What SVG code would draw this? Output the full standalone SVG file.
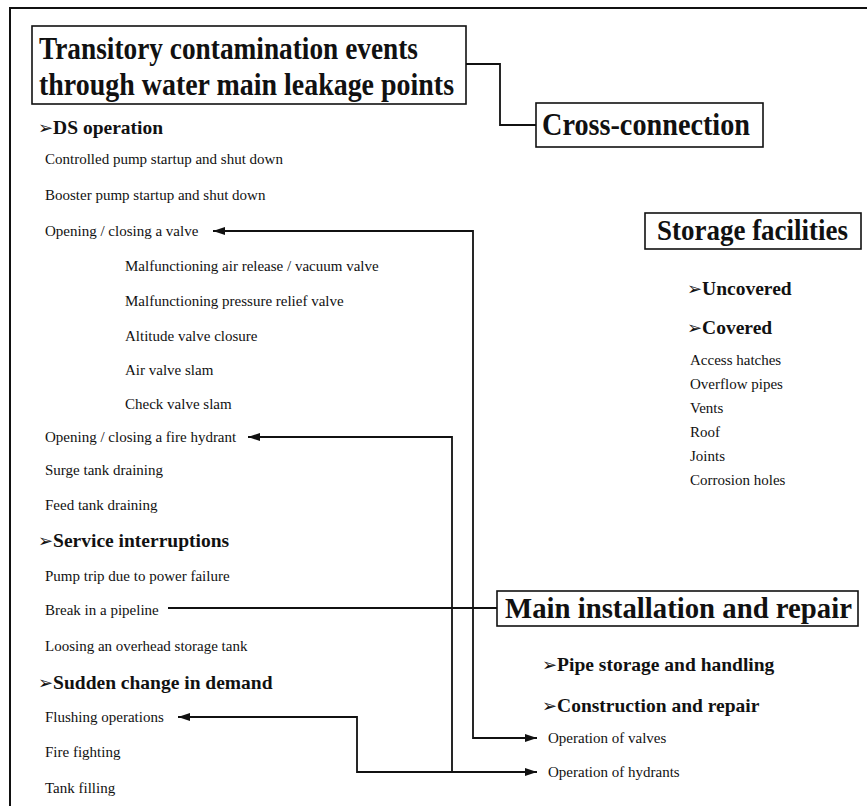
<svg xmlns="http://www.w3.org/2000/svg" width="867" height="806" viewBox="0 0 867 806">
<defs>
<style>
.t { font-family: "Liberation Serif", "Times New Roman", serif; font-size: 15px; fill: #111; }
.h { font-family: "Liberation Serif", "Times New Roman", serif; font-size: 19.5px; font-weight: bold; fill: #111; }
.b { font-family: "DejaVu Sans", sans-serif; font-size: 18px; font-weight: normal; }
.big { font-family: "Liberation Serif", "Times New Roman", serif; font-weight: bold; fill: #111; }
.box { fill: #fff; stroke: #111; stroke-width: 1.6; }
.frame { fill: none; stroke: #111; stroke-width: 2; }
.conn { fill: none; stroke: #111; stroke-width: 1.8; }
</style>
<marker id="ah" viewBox="0 0 12 8" refX="12" refY="4" markerWidth="12" markerHeight="8" markerUnits="userSpaceOnUse" orient="auto-start-reverse">
<path d="M0,0 L12,4 L0,8 z" fill="#111"/>
</marker>
</defs>
<rect width="867" height="806" fill="#fff"/>
<path class="frame" d="M10,806 V8 H867"/>

<g id="connectors">
<path class="conn" d="M466,64 H500 V125 H536"/>
<path class="conn" d="M213,231 H473 V738 H537" marker-start="url(#ah)" marker-end="url(#ah)"/>
<path class="conn" d="M248,437 H452 V772 H537" marker-start="url(#ah)" marker-end="url(#ah)"/>
<path class="conn" d="M178,717 H357 V772 H452" marker-start="url(#ah)"/>
<path class="conn" d="M168,608 H497"/>
</g>

<g id="title">
<rect class="box" x="32" y="26" width="434" height="78"/>
<text class="big" x="39" y="59" font-size="32" textLength="379" lengthAdjust="spacingAndGlyphs">Transitory contamination events</text>
<text class="big" x="39" y="95" font-size="32" textLength="415" lengthAdjust="spacingAndGlyphs">through water main leakage points</text>
</g>

<g id="cross-connection">
<rect class="box" x="536" y="103" width="227" height="44"/>
<text class="big" x="542" y="135" font-size="31" textLength="208" lengthAdjust="spacingAndGlyphs">Cross-connection</text>
</g>

<g id="storage-facilities">
<rect class="box" x="645" y="213" width="216" height="36"/>
<text class="big" x="657" y="240" font-size="29" textLength="191" lengthAdjust="spacingAndGlyphs">Storage facilities</text>
</g>

<g id="main-installation">
<rect class="box" x="497" y="591" width="361" height="35"/>
<text class="big" x="505" y="618" font-size="29" textLength="347" lengthAdjust="spacingAndGlyphs">Main installation and repair</text>
</g>

<g id="ds-operation">
<text class="h" x="38" y="134"><tspan class="b">➢</tspan>DS operation</text>
<text class="t" x="45" y="164">Controlled pump startup and shut down</text>
<text class="t" x="45" y="200">Booster pump startup and shut down</text>
<text class="t" x="45" y="236">Opening / closing a valve</text>
<text class="t" x="125" y="271">Malfunctioning air release / vacuum valve</text>
<text class="t" x="125" y="306">Malfunctioning pressure relief valve</text>
<text class="t" x="125" y="341">Altitude valve closure</text>
<text class="t" x="125" y="375">Air valve slam</text>
<text class="t" x="125" y="409">Check valve slam</text>
<text class="t" x="45" y="442">Opening / closing a fire hydrant</text>
<text class="t" x="45" y="475">Surge tank draining</text>
<text class="t" x="45" y="510">Feed tank draining</text>
</g>

<g id="service-interruptions">
<text class="h" x="38" y="547"><tspan class="b">➢</tspan>Service interruptions</text>
<text class="t" x="45" y="581">Pump trip due to power failure</text>
<text class="t" x="45" y="615">Break in a pipeline</text>
<text class="t" x="45" y="651">Loosing an overhead storage tank</text>
</g>

<g id="sudden-change">
<text class="h" x="38" y="689"><tspan class="b">➢</tspan>Sudden change in demand</text>
<text class="t" x="45" y="722">Flushing operations</text>
<text class="t" x="45" y="757">Fire fighting</text>
<text class="t" x="45" y="793">Tank filling</text>
</g>

<g id="storage-items">
<text class="h" x="687" y="295"><tspan class="b">➢</tspan>Uncovered</text>
<text class="h" x="687" y="334"><tspan class="b">➢</tspan>Covered</text>
<text class="t" x="690" y="365">Access hatches</text>
<text class="t" x="690" y="389">Overflow pipes</text>
<text class="t" x="690" y="413">Vents</text>
<text class="t" x="690" y="437">Roof</text>
<text class="t" x="690" y="461">Joints</text>
<text class="t" x="690" y="485">Corrosion holes</text>
</g>

<g id="installation-items">
<text class="h" x="542" y="671"><tspan class="b">➢</tspan>Pipe storage and handling</text>
<text class="h" x="542" y="712"><tspan class="b">➢</tspan>Construction and repair</text>
<text class="t" x="548" y="743">Operation of valves</text>
<text class="t" x="548" y="777">Operation of hydrants</text>
</g>
</svg>
